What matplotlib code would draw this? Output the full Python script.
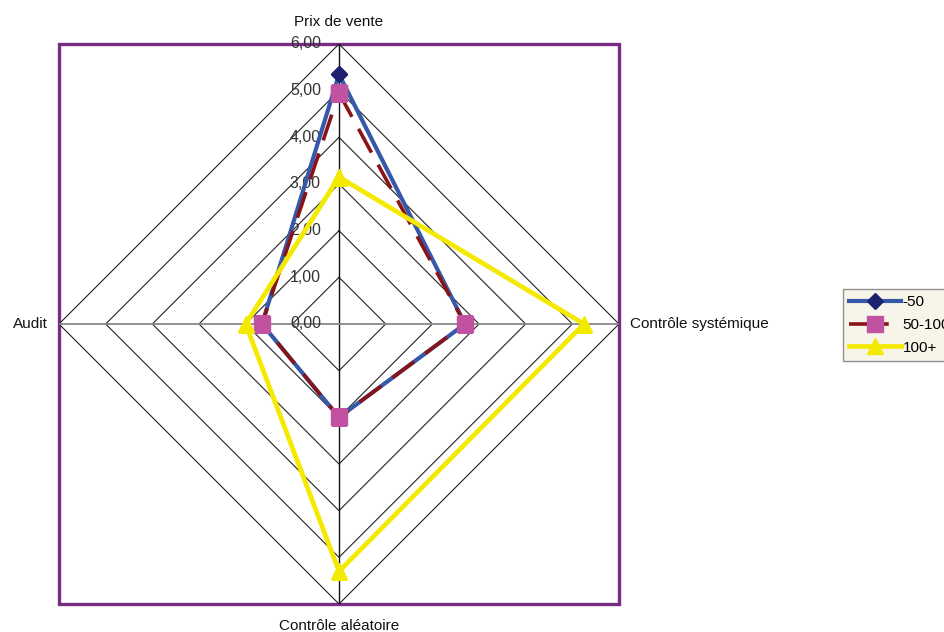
import numpy as np
import matplotlib
matplotlib.use('Agg')
import matplotlib.pyplot as plt
import matplotlib.patches as mpatches
from matplotlib.lines import Line2D
from matplotlib.transforms import offset_copy

plt.rcParams['font.family'] = ['Liberation Sans', 'DejaVu Sans']

categories = ['Prix de vente', 'Contrôle systémique', 'Contrôle aléatoire', 'Audit']
series_names = ['-50', '50-100', '100+']
vals_lt50 = [5.35, 2.70, 2.00, 1.65]
vals_50_100 = [4.95, 2.70, 2.00, 1.65]
vals_100p = [3.15, 5.25, 5.30, 2.00]
r_ticks = [0, 1, 2, 3, 4, 5, 6]
r_tick_labels = ['0,00', '1,00', '2,00', '3,00', '4,00', '5,00', '6,00']

W, H = 944, 632
fig = plt.figure(figsize=(W / 100, H / 100), dpi=100)
ax = fig.add_axes([59 / W, 28 / H, 560 / W, 560 / H], projection='polar')
ax.set_theta_zero_location('N')
ax.set_theta_direction(-1)
ax.set_ylim(0, 6)
ax.grid(False)
ax.set_xticks([])
ax.set_yticks([])
ax.spines['polar'].set_visible(False)
ax.patch.set_visible(False)

angles = np.linspace(0, 2 * np.pi, len(categories), endpoint=False)
closed = np.append(angles, angles[0])

# diamond grid rings
for r in r_ticks[1:]:
    ax.plot(closed, [r] * len(closed), color='#222222', lw=0.8, zorder=1)

# spokes
ax.plot([angles[0], angles[0]], [6, 0], color='#111111', lw=1.0, zorder=1)
ax.plot([angles[2], angles[2]], [0, 6], color='#111111', lw=1.0, zorder=1)
ax.plot([angles[1], angles[1]], [6, 0], color='#888888', lw=1.3, zorder=1)
ax.plot([angles[3], angles[3]], [0, 6], color='#888888', lw=1.3, zorder=1)

# plot-area frame
frame = mpatches.Rectangle((0, 0), 1, 1, transform=ax.transAxes, fill=False,
                           edgecolor='#7A2B83', lw=2.4, clip_on=False, zorder=0)
ax.add_patch(frame)

# radial value labels, left of the vertical spoke
lab_tr = offset_copy(ax.transData, fig=fig, x=-13, y=0, units='points')
for r, lab in zip(r_ticks, r_tick_labels):
    ax.text(0, r, lab, transform=lab_tr, ha='right', va='center',
            fontsize=11.5, color='#333333', zorder=2)

# category labels
offsets = [(0, 11, 'center', 'bottom'), (8, 0, 'left', 'center'),
           (0, -11, 'center', 'top'), (-8, 0, 'right', 'center')]
for ang, cat, (dx, dy, ha, va) in zip(angles, categories, offsets):
    tr = offset_copy(ax.transData, fig=fig, x=dx, y=dy, units='points')
    ax.text(ang, 6, cat, transform=tr, ha=ha, va=va, fontsize=11, color='#111111')

# data series
l1, = ax.plot(closed, vals_lt50 + vals_lt50[:1], color='#3558A8', lw=3.0,
              marker='D', markersize=8, markerfacecolor='#1E2170',
              markeredgecolor='#1E2170', zorder=3)
l2, = ax.plot(closed, vals_50_100 + vals_50_100[:1], color='#881417', lw=2.6,
              dashes=(7.5, 3.8), marker='s', markersize=11,
              markerfacecolor='#C152A2', markeredgecolor='#C152A2', zorder=4)
l3, = ax.plot(closed, vals_100p + vals_100p[:1], color='#F4EA00', lw=3.4,
              marker='^', markersize=12, markerfacecolor='#F4EA00',
              markeredgecolor='#F4EA00', zorder=5)

# legend proxy for the dashed series, so one dash shows in the key
l2_key = Line2D([], [], color='#881417', lw=2.6, dashes=(11, 6),
                marker='s', markersize=11, markerfacecolor='#C152A2',
                markeredgecolor='#C152A2')

leg = fig.legend([l1, l2_key, l3], series_names, loc='upper left',
                 bbox_to_anchor=(843 / W, 1 - 289 / H), fontsize=11,
                 frameon=True, fancybox=False, handlelength=3.4,
                 handletextpad=0.1, borderpad=0.4, labelspacing=0.58,
                 borderaxespad=0)
leg.get_frame().set_facecolor('#F6F2E5')
leg.get_frame().set_edgecolor('#777777')
leg.get_frame().set_linewidth(1.0)

fig.savefig('out.png', dpi=100)
